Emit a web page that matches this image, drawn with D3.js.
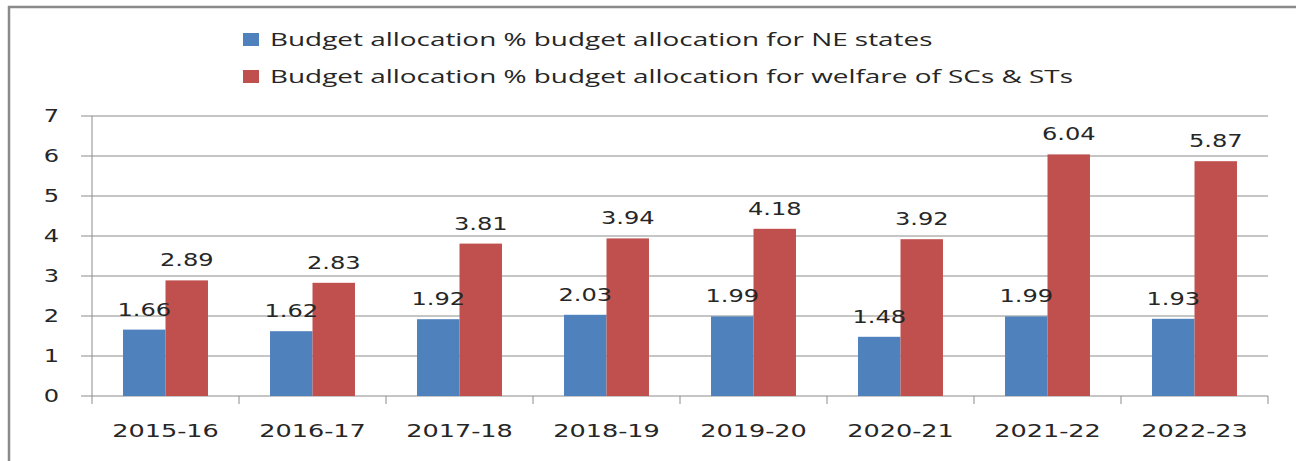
<!DOCTYPE html>
<meta charset="utf-8">
<title>Budget allocation</title>
<body style="margin:0;background:#fff">
<style>
body { font-family: "DejaVu Sans", Verdana, sans-serif; }
.grid line { stroke: #8c8c8c; stroke-width: 1px; }
.lbl { font-size: 17px; fill: #262626; }
.legend text { font-family: "Open Sans", Lato, sans-serif; font-size: 18px; fill: #262626; }
</style>
<svg id="chart" width="1296" height="461"></svg>
<script src="https://d3js.org/d3.v7.min.js"></script>
<script>
// data
var years = ["2015-16", "2016-17", "2017-18", "2018-19", "2019-20", "2020-21", "2021-22", "2022-23"];
var neStates = [1.66, 1.62, 1.92, 2.03, 1.99, 1.48, 1.99, 1.93];
var scSt = [2.89, 2.83, 3.81, 3.94, 4.18, 3.92, 6.04, 5.87];
var seriesNames = ["Budget allocation % budget allocation for NE states",
                   "Budget allocation % budget allocation for welfare of SCs & STs"];
var colors = ["#4f81bd", "#c0504d"];
var yTicks = [0, 1, 2, 3, 4, 5, 6, 7];

var stretch = 1.42; // text in the picture is widened horizontally
var margin = {left: 92, right: 28, top: 116, bottom: 65};
var W = 1296, H = 461;

var svg = d3.select("#chart");

// outer frame
svg.append("rect")
  .attr("x", 9).attr("y", 7)
  .attr("width", 1300).attr("height", 480)
  .attr("fill", "none").attr("stroke", "#8a8a8a").attr("stroke-width", 2.5);

var x = d3.scaleBand().domain(years).range([margin.left, W - margin.right]);
var x1 = d3.scaleBand().domain([0, 1]).range([0, x.bandwidth()]).paddingOuter(0.73).paddingInner(0);
var y = d3.scaleLinear().domain([0, 7]).range([H - margin.bottom, margin.top]);

function wideText(sel, tx, ty) {
  sel.attr("transform", function(d, i) {
    return "translate(" + tx(d, i) + "," + ty(d, i) + ") scale(" + stretch + ",1)";
  });
}

// gridlines + y ticks
var grid = svg.append("g").attr("class", "grid");
grid.selectAll("line.h").data(yTicks).enter().append("line")
  .attr("x1", margin.left - 11).attr("x2", W - margin.right)
  .attr("y1", function(d) { return y(d); }).attr("y2", function(d) { return y(d); });
// y axis line
grid.append("line")
  .attr("x1", margin.left).attr("x2", margin.left)
  .attr("y1", y(7)).attr("y2", y(0) + 8);
// category ticks
var bounds = years.map(function(d) { return x(d); }).concat([W - margin.right]);
grid.selectAll("line.v").data(bounds.slice(1)).enter().append("line")
  .attr("x1", function(d) { return d; }).attr("x2", function(d) { return d; })
  .attr("y1", y(0)).attr("y2", y(0) + 8);

svg.append("g").selectAll("text").data(yTicks).enter().append("text")
  .attr("class", "lbl")
  .attr("text-anchor", "end")
  .attr("dy", "0.36em")
  .text(function(d) { return d; })
  .call(wideText, function() { return 59; }, function(d) { return y(d); });

// x labels
svg.append("g").selectAll("text").data(years).enter().append("text")
  .attr("class", "lbl")
  .style("font-size", "18px")
  .attr("text-anchor", "middle")
  .text(function(d) { return d; })
  .call(wideText, function(d) { return x(d) + x.bandwidth() / 2; }, function() { return 437; });

// bars first, value labels on top
var series = [neStates, scSt];
var barLayer = svg.append("g"), labelLayer = svg.append("g");
series.forEach(function(vals, s) {
  barLayer.append("g").selectAll("rect").data(vals).enter().append("rect")
    .attr("x", function(d, i) { return x(years[i]) + x1(s); })
    .attr("width", x1.bandwidth())
    .attr("y", function(d) { return y(d); })
    .attr("height", function(d) { return y(0) - y(d); })
    .attr("fill", colors[s]);
  labelLayer.append("g").selectAll("text").data(vals).enter().append("text")
    .attr("class", "lbl")
    .attr("text-anchor", "middle")
    .text(function(d) { return d.toFixed(2); })
    .call(wideText, function(d, i) { return x(years[i]) + x1(s) + x1.bandwidth() / 2; },
                    function(d) { return y(d) - 14; });
});

// legend
var legend = svg.append("g").attr("class", "legend");
seriesNames.forEach(function(name, i) {
  var cy = 40 + i * 37;
  legend.append("rect")
    .attr("x", 243).attr("y", cy - 7)
    .attr("width", 16).attr("height", 13)
    .attr("fill", colors[i]);
  legend.append("text")
    .attr("dy", "0.35em")
    .text(name)
    .attr("transform", "translate(270," + cy + ") scale(1.55,1)");
});
</script>
</body>
